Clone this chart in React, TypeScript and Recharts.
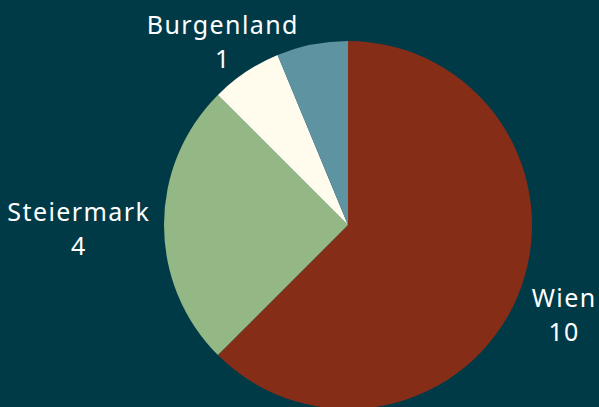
import type { JSX } from "react";

import { Cell, Pie, PieChart } from "recharts";

const regions = ["Wien", "Steiermark", "Burgenland", "Kärnten"];
const counts = [10, 4, 1, 1];
const colors = ["#862d17", "#93b886", "#fffcee", "#5e93a2"];
const showLabel = [true, true, true, false];

const FONT = 25;
const SPACING = 1.4;
const RAD = Math.PI / 180;

function renderLabel(props: any): JSX.Element | null {
	const { cx, cy, outerRadius, midAngle, index, name, value } = props;
	if (!showLabel[index]) return null;
	const cos = Math.cos(-midAngle * RAD);
	const sin = Math.sin(-midAngle * RAD);
	const ax = cx + (outerRadius + 12) * cos;
	const ay = cy + (outerRadius + 12) * sin;
	const w = String(name).length * (FONT * 0.53 + SPACING);
	const h = 58;
	// side labels sit beside the pie, top/bottom ones sit over it
	const side = Math.abs(cos) > Math.abs(sin);
	const bx = side ? ax + Math.sign(cos) * (w / 2 + Math.abs(sin) * 15) : ax + cos * (w / 2) * 0.4;
	const by = ay + (sin * h) / 2;
	return (
		<text fill="#ffffff" fontFamily="Noto Sans, sans-serif" fontSize={FONT} letterSpacing={SPACING} textAnchor="middle">
			<tspan x={bx} y={by - 4}>
				{name}
			</tspan>
			<tspan x={bx} y={by + 30}>
				{value}
			</tspan>
		</text>
	);
}

export default function App(): JSX.Element {
	const data = regions.map((r, i) => ({ name: r, value: counts[i] }));
	return (
		<div style={{ background: "#013a47", height: 407, left: 0, position: "fixed", top: 0, width: 599 }}>
			<PieChart height={407} margin={{ bottom: 0, left: 0, right: 0, top: 0 }} width={599}>
				<Pie
					cx={348}
					cy={225}
					data={data}
					dataKey="value"
					endAngle={-270}
					isAnimationActive={false}
					label={renderLabel}
					labelLine={false}
					outerRadius={184}
					startAngle={90}
					stroke="none"
				>
					{data.map((d, i) => (
						<Cell fill={colors[i]} key={d.name} />
					))}
				</Pie>
			</PieChart>
		</div>
	);
}
